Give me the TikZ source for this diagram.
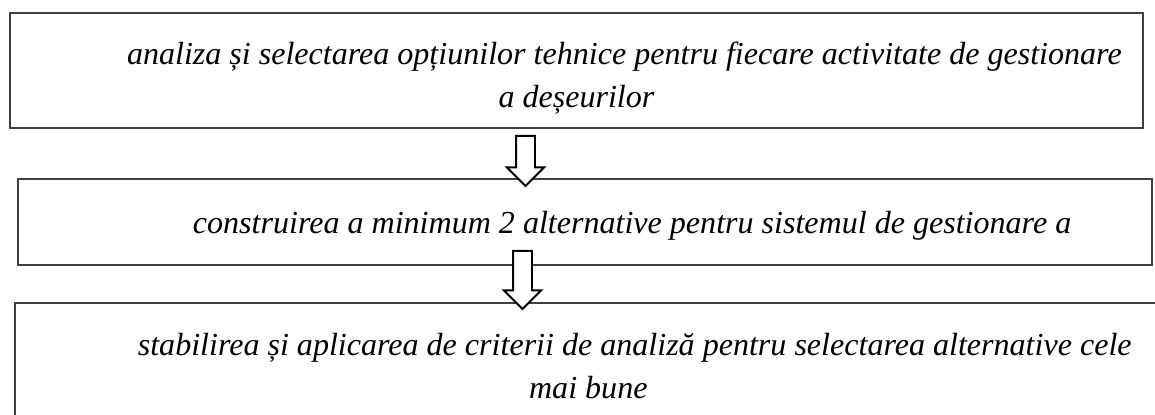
\documentclass[tikz,border=0pt]{standalone}
\usepackage{fontspec}
\setmainfont{Liberation Serif}
\usetikzlibrary{shapes.arrows, calc}

\begin{document}
\begin{tikzpicture}[
  x=0.025cm, y=-0.025cm,
  stepbox/.style={draw=black!75, line width=1.3pt, inner sep=0pt},
  steptext/.style={align=center, inner sep=0pt, font=\itshape\fontsize{22.8}{30.6}\selectfont},
  flow/.style={single arrow, draw=black, fill=white, line width=1.4pt, rotate=-90,
    minimum height=1.25cm, minimum width=0.875cm, single arrow head extend=0.225cm,
    inner xsep=0pt, inner ysep=0.2125cm, anchor=west},
]
  \useasboundingbox (0,0) rectangle (1155,414);
  \clip (0,0) rectangle (1155,414);

  % the three steps
  \node[stepbox, minimum width=28.325cm, minimum height=2.875cm] (opt) at (576.5,70.5) {};
  \node[stepbox, minimum width=28.35cm, minimum height=2.15cm] (alt) at (585,222) {};
  \node[stepbox, minimum width=28.75cm, minimum height=3.5cm] (crit) at (590,373) {};

  \node[steptext] (opt-t) at ($(opt.center)+(0,8)$)
    {\hspace*{68pt}analiza și selectarea opțiunilor tehnice pentru fiecare activitate de gestionare\\
     a deșeurilor};
  \node[steptext] (alt-t) at ($(alt.center)+(0,3.3)$)
    {\hspace*{67pt}construirea a minimum 2 alternative pentru sistemul de gestionare a};
  \node[steptext] (crit-t) at ($(crit.center)+(-1.7,-7.4)$)
    {\hspace*{66pt}stabilirea și aplicarea de criterii de analiză pentru selectarea alternative cele\\
     mai bune};

  % block arrows between steps
  \node[flow] (f1) at ($(opt.south)+(-51,6)$) {};
  \node[flow, minimum height=1.45cm] (f2) at ($(alt.south)+(-62.5,-16)$) {};
\end{tikzpicture}
\end{document}
